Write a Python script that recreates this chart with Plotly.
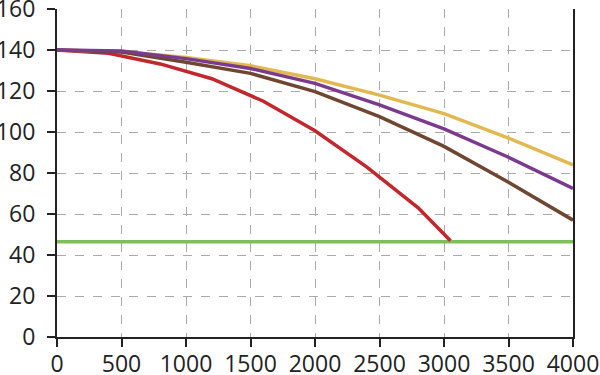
import plotly.graph_objects as go

x_main = [0, 500, 1000, 1500, 2000, 2500, 3000, 3500, 4000]
yellow = [140, 139.3, 136.4, 132.3, 126, 118, 109, 97, 84]
purple = [140, 139.5, 135.8, 131, 123.7, 113.2, 101.5, 87.7, 72.5]
brown = [140, 139, 134, 128.6, 119.7, 107.5, 93, 75.5, 57]

x_red = [0, 400, 800, 1200, 1600, 2000, 2400, 2800, 3050]
red = [140, 138.4, 133.2, 126, 115, 100.6, 83, 63, 47]

x_green = [0, 4000]
green = [46.5, 46.5]

x_ticks = [0, 500, 1000, 1500, 2000, 2500, 3000, 3500, 4000]
y_ticks = [0, 20, 40, 60, 80, 100, 120, 140, 160]

fig = go.Figure()
fig.add_trace(go.Scatter(x=x_green, y=green, mode="lines", line=dict(color="#7DBF58", width=3.5)))
fig.add_trace(go.Scatter(x=x_red, y=red, mode="lines", line=dict(color="#C1272D", width=3.5)))
fig.add_trace(go.Scatter(x=x_main, y=yellow, mode="lines", line=dict(color="#E2B850", width=3.5)))
fig.add_trace(go.Scatter(x=x_main, y=brown, mode="lines", line=dict(color="#6F4631", width=3.5)))
fig.add_trace(go.Scatter(x=x_main, y=purple, mode="lines", line=dict(color="#7B3B8D", width=3.5)))

fig.update_layout(
    width=600, height=375,
    margin=dict(l=57, r=27, t=9, b=38),
    showlegend=False,
    plot_bgcolor="white", paper_bgcolor="white",
    font=dict(family="Open Sans", size=23, color="#222222"),
)
fig.update_xaxes(
    range=[0, 4000], tickvals=x_ticks, ticktext=[str(v) for v in x_ticks],
    showgrid=True, gridcolor="#AAAAAA", griddash="dash", gridwidth=1,
    showline=True, linecolor="#222222", linewidth=2,
    ticks="outside", ticklen=8, tickwidth=2, tickcolor="#222222",
    zeroline=False, ticklabelstandoff=-3, automargin=False,
    ticklabeloverflow="allow",
)
fig.update_yaxes(
    range=[0, 160], tickvals=y_ticks, ticktext=[str(v) for v in y_ticks],
    showgrid=True, gridcolor="#AAAAAA", griddash="dash", gridwidth=1,
    showline=True, mirror=True, linecolor="#222222", linewidth=2,
    ticks="outside", ticklen=8, tickwidth=2, tickcolor="#222222",
    zeroline=False, ticklabelstandoff=7, automargin=False,
    ticklabeloverflow="allow",
)
fig.write_html("out.html", config={"displayModeBar": False},
               post_script="document.body.style.margin='0';")
